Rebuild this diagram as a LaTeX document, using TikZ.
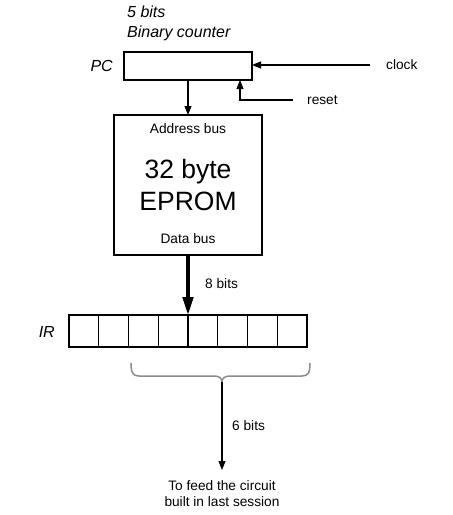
\documentclass[tikz,border=0pt]{standalone}
\usepackage{fontspec}
\setmainfont{Liberation Sans}
\usetikzlibrary{arrows.meta,calc,positioning}
\definecolor{Ink}{HTML}{000000}
\definecolor{BraceGray}{HTML}{8C8C8C}
\tikzset{
  block/.style={
    draw=Ink, line width=1.1pt, inner sep=0pt, outer sep=0pt
  },
  regcell/.style={
    draw=Ink, line width=1.1pt, inner sep=0pt, outer sep=0pt,
    minimum width=29.75pt, minimum height=32pt
  },
  lbl/.style={inner sep=0pt, font=\fontsize{13.7}{16}\selectfont},
  ital/.style={inner sep=0pt, font=\fontsize{16}{19}\selectfont\itshape},
  bigtxt/.style={inner sep=0pt, font=\fontsize{26.5}{32}\selectfont},
  flow/.style={-{Triangle[length=9pt,width=7pt]}, line width=1.1pt, draw=Ink},
  busflow/.style={-{Triangle[length=18pt,width=10.5pt]}, line width=3.5pt, draw=Ink},
  bracepath/.style={line width=1.5pt, draw=BraceGray}
}

\begin{document}
\begin{tikzpicture}[x=1pt,y=-1pt]
  \useasboundingbox (0,0) rectangle (453,515);
  % program counter
  \node[block,minimum width=128pt,minimum height=28pt] (pc) at (188,66) {};
  \node[ital,anchor=base east] (pcname) at (113,71) {PC};
  \node[ital,anchor=base west] (pcbits) at (127,17.5) {5 bits};
  \node[ital,anchor=base west] (pctype) at (127,37) {Binary counter};
  \coordinate (clk) at (370,65);
  \node[lbl,anchor=base west] (clklbl) at (386,69) {clock};
  \coordinate (rst) at (293,100);
  \node[lbl,anchor=base west] (rstlbl) at (307,104) {reset};
  \draw[flow] (clk) -- (clk -| pc.east);
  \draw[flow] (rst) -| ([xshift=-12pt]pc.south east);
  % eprom
  \node[block,minimum width=148pt,minimum height=140pt] (eprom) at (188,185) {};
  \node[lbl,anchor=base] (addr) at (188,133) {Address bus};
  \node[bigtxt,anchor=base] (size) at (188,178) {32 byte};
  \node[bigtxt,anchor=base] (chip) at (188,210) {EPROM};
  \node[lbl,anchor=base] (data) at (188,243) {Data bus};
  \draw[flow] (pc.south) -- (eprom.north);
  % instruction register
  \node[regcell] (ir1) at (83.875,331) {};
  \foreach \i [remember=\i as \j (initially 1)] in {2,...,8}
    \node[regcell,right=0pt of ir\j] (ir\i) {};
  \node[ital,anchor=base east] (irname) at (55,337) {IR};
  \draw[busflow] (eprom.south) -- (ir4.north east);
  \node[lbl,anchor=base west] (busbits) at (205,288) {8 bits};
  % brace over the low 6 bits
  \coordinate (bl) at (131,363);
  \coordinate (br) at (310,363);
  \coordinate (bt) at (222,382);
  \draw[bracepath] (bl) .. controls (131,373) and (133,376) .. (139,376)
    -- (214,376) .. controls (219,376) and (222,378) .. (bt)
    .. controls (222,378) and (225,376) .. (230,376)
    -- (302,376) .. controls (308,376) and (310,373) .. (br);
  \node[lbl,align=center,anchor=north] (feed) at (222,480)
    {To feed the circuit\\built in last session};
  \draw[flow] (bt) -- ([yshift=10pt]feed.north);
  \node[lbl,anchor=base west] (outbits) at (232,430) {6 bits};
\end{tikzpicture}
\end{document}
